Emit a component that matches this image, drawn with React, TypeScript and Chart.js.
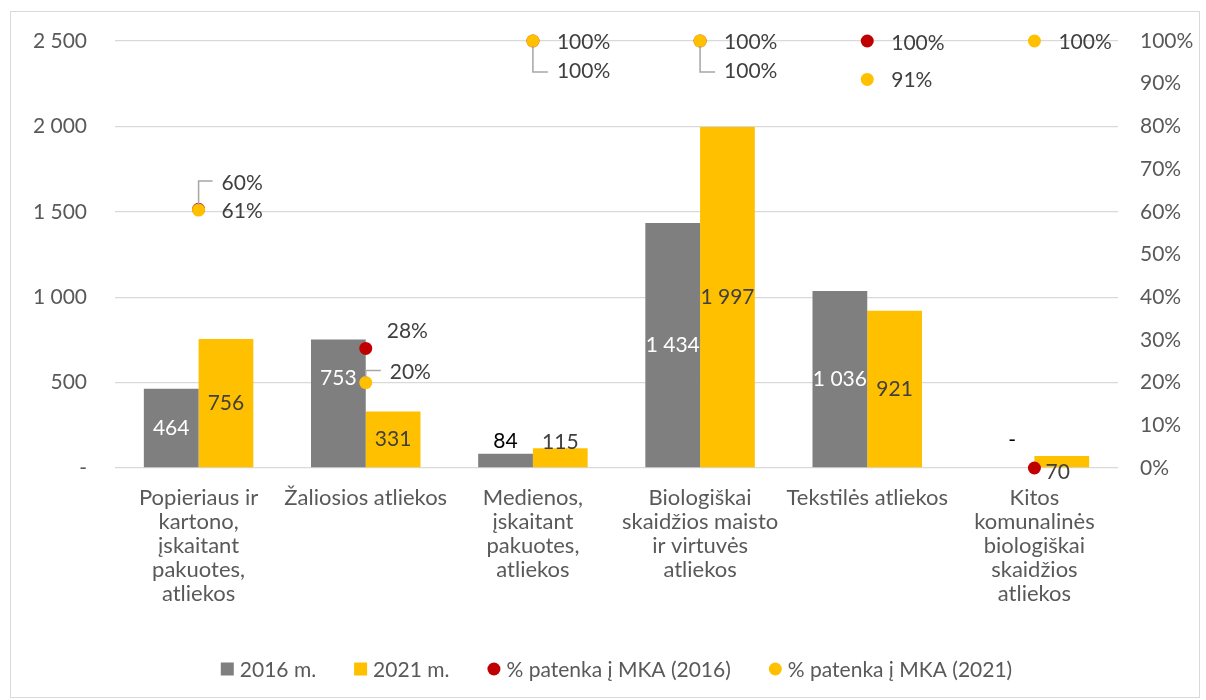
import React, { useEffect, useRef } from 'react';
import { Chart, registerables } from 'chart.js';

Chart.register(...registerables);

// ---- Data ----
const categories: string[][] = [
  ['Popieriaus ir', 'kartono,', 'įskaitant', 'pakuotes,', 'atliekos'],
  ['Žaliosios atliekos'],
  ['Medienos,', 'įskaitant', 'pakuotes,', 'atliekos'],
  ['Biologiškai', 'skaidžios maisto', 'ir virtuvės', 'atliekos'],
  ['Tekstilės atliekos'],
  ['Kitos', 'komunalinės', 'biologiškai', 'skaidžios', 'atliekos'],
];
const tons2016 = [464, 753, 84, 1434, 1036, 0];
const tons2021 = [756, 331, 115, 1997, 921, 70];
const share2016 = [0.606, 0.28, 1.0, 1.0, 1.0, 0.0];
const share2021 = [0.604, 0.2, 1.0, 1.0, 0.91, 1.0];
const leftMax = 2500;
const leftStep = 500;
const rightMax = 1;
const rightStep = 0.1;
const seriesNames = ['2016 m.', '2021 m.', '% patenka į MKA (2016)', '% patenka į MKA (2021)'];

// ---- Style ----
const GRAY = '#7f7f7f';
const YELLOW = '#ffc000';
const RED = '#c00000';
const TEXT = '#404040';
const AXIS_TEXT = '#595959';
const FONT = 'Lato, "Open Sans", sans-serif';
const FS = 21;

type Spec = { dx?: number; dy?: number; color?: string; top?: boolean; hide?: boolean; leader?: boolean };
// label placement styles per dataset (index-aligned with categories)
const labelStyles: Spec[][] = [
  [{}, { dy: -25 }, { top: true, dy: -12, color: '#000' }, {}, {}, { top: true, dy: -28, dx: 5, color: '#000' }],
  [{}, {}, { top: true, dy: -6 }, {}, {}, { top: true, dy: 16, dx: -4 }],
  [{ dx: 23, dy: 2 }, { dx: 21, dy: -17 }, { dx: 24, dy: 1 }, { dx: 24, dy: 1 }, { dx: 24, dy: 2 }, { hide: true }],
  [{ dx: 23, dy: -27, leader: true }, { dx: 24, dy: -10, leader: true }, { dx: 24, dy: 30, leader: true }, { dx: 24, dy: 30, leader: true }, { dx: 24, dy: 1 }, { dx: 24, dy: 1 }],
];

const fmtTons = (v: number) => (v === 0 ? '-' : String(v).replace(/\B(?=(\d{3})+(?!\d))/g, ' '));
const fmtPct = (v: number) => Math.round(v * 100) + '%';

const labelsPlugin = {
  id: 'customLabels',
  afterDatasetsDraw(chart: any) {
    const ctx = chart.ctx;
    ctx.save();
    ctx.font = `${FS}px ${FONT}`;
    ctx.textBaseline = 'middle';
    chart.data.datasets.forEach((ds: any, di: number) => {
      const meta = chart.getDatasetMeta(di);
      meta.data.forEach((el: any, i: number) => {
        const s = labelStyles[di][i] || {};
        if (s.hide) return;
        const v = ds.data[i];
        if (di < 2) {
          const x = el.x + (s.dx || 0);
          const y = (s.top ? el.y : (el.y + el.base) / 2) + (s.dy || 0);
          ctx.fillStyle = s.color || (di === 0 ? '#ffffff' : TEXT);
          ctx.textAlign = 'center';
          ctx.fillText(fmtTons(v), x, y);
        } else {
          const tx = el.x + (s.dx || 0);
          const ty = el.y + (s.dy || 0);
          if (s.leader) {
            ctx.strokeStyle = '#a6a6a6';
            ctx.lineWidth = 1.5;
            ctx.beginPath();
            const up = ty < el.y;
            const ly = ty - (up ? 2 : -1);
            ctx.moveTo(el.x, el.y + (up ? -5 : 5));
            ctx.lineTo(el.x, ly);
            ctx.lineTo(tx - 9, ly);
            ctx.stroke();
          }
          ctx.fillStyle = TEXT;
          ctx.textAlign = 'left';
          ctx.fillText(fmtPct(v), tx, ty);
        }
      });
    });
    ctx.restore();
  },
  afterDraw(chart: any) {
    const ctx = chart.ctx;
    ctx.save();
    // outer border
    ctx.strokeStyle = '#d9d9d9';
    ctx.lineWidth = 1;
    ctx.strokeRect(10.5, 11.5, 1189, 686);
    // legend
    ctx.font = `${FS}px ${FONT}`;
    ctx.textBaseline = 'middle';
    ctx.textAlign = 'left';
    const y = 669;
    const mk = 13;
    const gapMk = 6;
    const gapItem = 38;
    const colors = [GRAY, YELLOW, RED, YELLOW];
    const widths = seriesNames.map((n) => mk + gapMk + ctx.measureText(n).width);
    const total = widths.reduce((a, b) => a + b, 0) + gapItem * (widths.length - 1);
    const ca = chart.chartArea;
    let x = (ca.left + ca.right) / 2 - total / 2;
    seriesNames.forEach((n, i) => {
      ctx.fillStyle = colors[i];
      if (i < 2) {
        ctx.fillRect(x, y - mk / 2, mk, mk);
      } else {
        ctx.beginPath();
        ctx.arc(x + mk / 2, y, mk / 2, 0, Math.PI * 2);
        ctx.fill();
      }
      ctx.fillStyle = AXIS_TEXT;
      ctx.fillText(n, x + mk + gapMk, y + 1);
      x += widths[i] + gapItem;
    });
    ctx.restore();
  },
};

export default function App() {
  const ref = useRef<HTMLCanvasElement>(null);
  useEffect(() => {
    document.body.style.margin = '0';
    const canvas = ref.current!;
    const chart = new Chart(canvas, {
      type: 'bar',
      data: {
        labels: categories,
        datasets: [
          { type: 'bar', label: seriesNames[0], data: tons2016, backgroundColor: GRAY, yAxisID: 'y', order: 2, categoryPercentage: 0.655, barPercentage: 1 } as any,
          { type: 'bar', label: seriesNames[1], data: tons2021, backgroundColor: YELLOW, yAxisID: 'y', order: 3, categoryPercentage: 0.655, barPercentage: 1 } as any,
          { type: 'line', label: seriesNames[2], data: share2016, yAxisID: 'y1', showLine: false, pointRadius: 6.5, pointBackgroundColor: RED, pointBorderWidth: 0, borderColor: RED, backgroundColor: RED, order: 1, clip: false } as any,
          { type: 'line', label: seriesNames[3], data: share2021, yAxisID: 'y1', showLine: false, pointRadius: 6.5, pointBackgroundColor: YELLOW, pointBorderWidth: 0, borderColor: YELLOW, backgroundColor: YELLOW, order: 0, clip: false } as any,
        ],
      },
      options: {
        responsive: false,
        animation: false,
        layout: { padding: { top: 41, left: 0, right: 0, bottom: 0 } },
        plugins: { legend: { display: false }, tooltip: { enabled: false } },
        scales: {
          x: {
            grid: { display: false, drawTicks: false },
            border: { display: false },
            ticks: { color: AXIS_TEXT, font: { family: FONT, size: 22, lineHeight: '24px' } as any, padding: 18, maxRotation: 0, autoSkip: false },
            afterFit: (s: any) => { s.height = 232; },
          },
          y: {
            position: 'left',
            min: 0,
            max: leftMax,
            grid: { color: '#d9d9d9', lineWidth: 1.3, drawTicks: false },
            border: { display: false },
            ticks: { stepSize: leftStep, color: AXIS_TEXT, font: { family: FONT, size: FS }, padding: 28, callback: (v: any) => fmtTons(Number(v)) },
            afterFit: (s: any) => { s.width = 115; },
          },
          y1: {
            position: 'right',
            min: 0,
            max: rightMax,
            grid: { display: false, drawTicks: false },
            border: { display: false },
            ticks: { stepSize: rightStep, color: AXIS_TEXT, font: { family: FONT, size: FS }, padding: 22, callback: (v: any) => Math.round(Number(v) * 100) + '%' },
            afterFit: (s: any) => { s.width = 88; },
          },
        },
      },
      plugins: [labelsPlugin],
    });
    return () => chart.destroy();
  }, []);
  return <canvas ref={ref} width={1206} height={700} style={{ display: 'block', width: 1206, height: 700 }} />;
}
